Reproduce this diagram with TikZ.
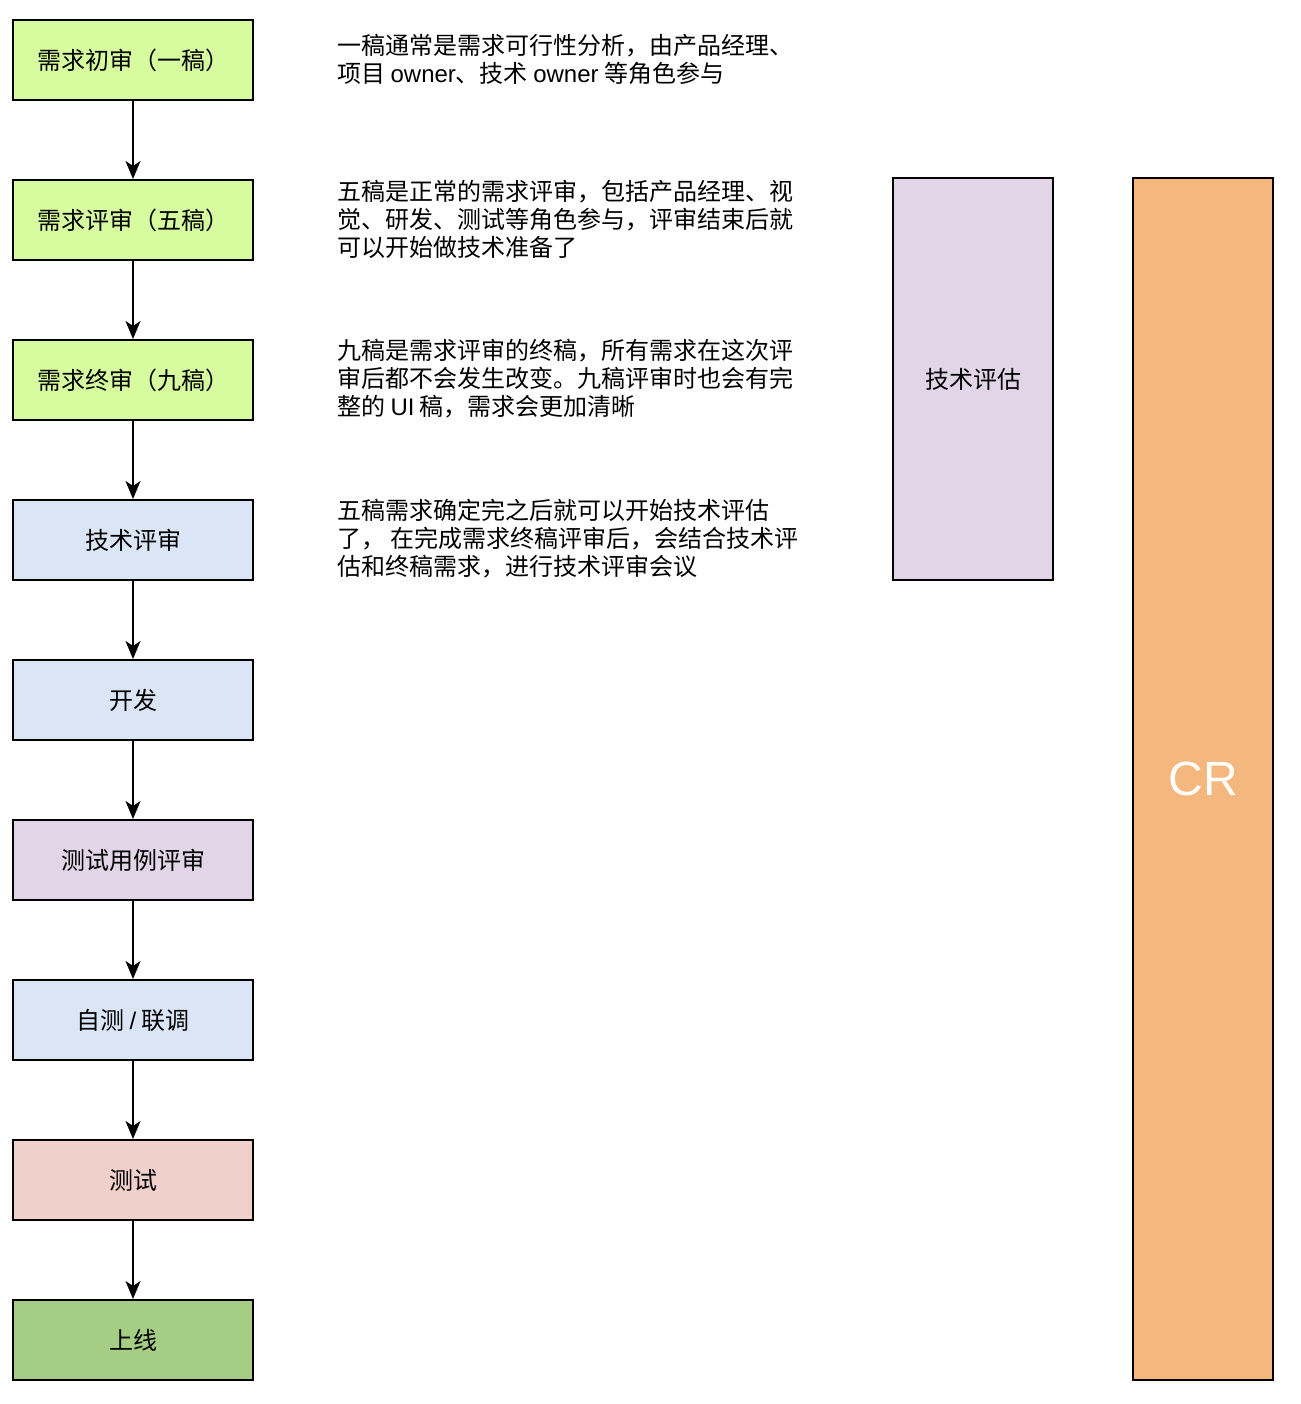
\documentclass[tikz,border=0pt]{standalone}
\usepackage{fontspec}
\setmainfont{Noto Sans CJK SC}
\newfontfamily\latinfont{Liberation Sans}
\usetikzlibrary{arrows.meta}
\definecolor{cgreen}{HTML}{D7FC9F}
\definecolor{cblue}{HTML}{DAE6F6}
\definecolor{cpurple}{HTML}{E1D5E7}
\definecolor{cred}{HTML}{F1D0CC}
\definecolor{cdgreen}{HTML}{A5CD83}
\definecolor{corange}{HTML}{F4B77E}
\begin{document}
\begin{tikzpicture}[x=1pt,y=-1pt,
  stepbox/.style={draw=black,line width=2pt,minimum width=240pt,minimum height=80pt,inner sep=0pt,font=\fontsize{24}{28}\selectfont},
  note/.style={anchor=west,align=left,inner sep=0pt,font=\fontsize{24}{28}\selectfont},
  flow/.style={line width=2pt,-{Stealth[length=18pt,width=15pt,inset=5pt]}}]
\useasboundingbox (0,0) rectangle (1300,1404);
\fill[white] (0,0) rectangle (1300,1404);
\node[stepbox,fill=cgreen] (s1) at (133,60) {需求初审（一稿）};
\node[stepbox,fill=cgreen] (s2) at (133,220) {需求评审（五稿）};
\node[stepbox,fill=cgreen] (s3) at (133,380) {需求终审（九稿）};
\node[stepbox,fill=cblue] (s4) at (133,540) {技术评审};
\node[stepbox,fill=cblue] (s5) at (133,700) {开发};
\node[stepbox,fill=cpurple] (s6) at (133,860) {测试用例评审};
\node[stepbox,fill=cblue] (s7) at (133,1020) {自测 {\latinfont /} 联调};
\node[stepbox,fill=cred] (s8) at (133,1180) {测试};
\node[stepbox,fill=cdgreen] (s9) at (133,1340) {上线};
\foreach \a/\b in {s1/s2,s2/s3,s3/s4,s4/s5,s5/s6,s6/s7,s7/s8,s8/s9}
  \draw[flow] (\a) -- (\b);
\node[note] (n1) at (337,59) {一稿通常是需求可行性分析，由产品经理、\\项目 {\latinfont owner}、技术 {\latinfont owner} 等角色参与};
\node[note] (n2) at (337,219) {五稿是正常的需求评审，包括产品经理、视\\觉、研发、测试等角色参与，评审结束后就\\可以开始做技术准备了};
\node[note] (n3) at (337,379) {九稿是需求评审的终稿，所有需求在这次评\\审后都不会发生改变。九稿评审时也会有完\\整的 {\latinfont UI} 稿，需求会更加清晰};
\node[note] (n4) at (337,539) {五稿需求确定完之后就可以开始技术评估\\了， 在完成需求终稿评审后，会结合技术评\\估和终稿需求，进行技术评审会议};
\node[draw=black,line width=2pt,fill=cpurple,minimum width=160pt,minimum height=402pt,inner sep=0pt,font=\fontsize{24}{28}\selectfont] (tech) at (973,379) {技术评估};
\node[draw=black,line width=2pt,fill=corange,minimum width=140pt,minimum height=1202pt,inner sep=0pt,text=white,font=\latinfont\fontsize{48}{52}\selectfont] (cr) at (1203,779) {CR};
\end{tikzpicture}
\end{document}
